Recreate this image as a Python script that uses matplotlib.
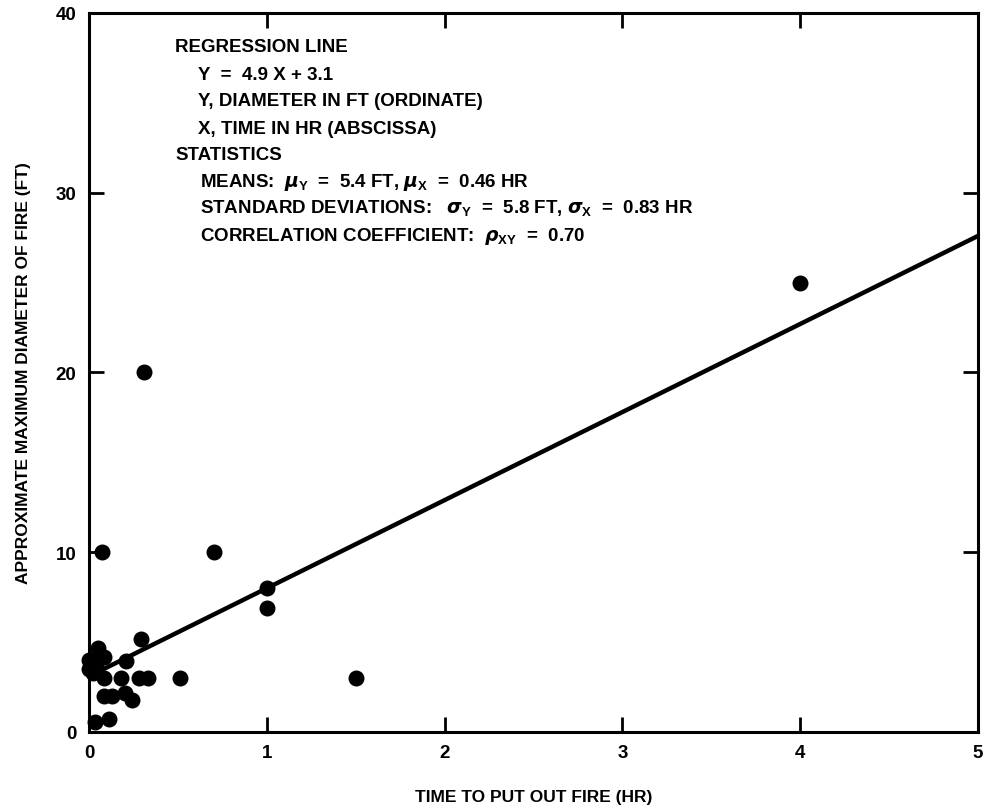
import matplotlib
matplotlib.use("Agg")
import matplotlib.pyplot as plt
import numpy as np
from matplotlib import font_manager

names = {f.name for f in font_manager.fontManager.ttflist}
fam = ['Liberation Sans Narrow', 'DejaVu Sans'] if 'Liberation Sans Narrow' in names else ['Liberation Sans', 'DejaVu Sans']
plt.rcParams['font.family'] = fam
plt.rcParams['mathtext.fontset'] = 'custom'
plt.rcParams['mathtext.rm'] = fam[0] + ':bold'
plt.rcParams['mathtext.it'] = 'DejaVu Sans:italic:bold'
plt.rcParams['mathtext.bf'] = fam[0] + ':bold'

# data (hours, feet)
time_hr = [0.31, 0.075, 0.70, 1.0, 1.0, 0.29, 1.5, 0.51, 0.33, 0.28, 0.18, 0.085,
           0.21, 0.05, 0.085, 0.02, 0.04, 0.01, 0.02, 0.085, 0.13, 0.20, 0.24,
           0.11, 0.035, 4.0, 0.0, 0.0]
diam_ft = [20, 10, 10, 8, 6.9, 5.2, 3.0, 3.0, 3.0, 3.0, 3.0, 3.0,
           3.95, 4.65, 4.15, 4.05, 3.7, 3.5, 3.3, 2.0, 2.0, 2.15, 1.8,
           0.7, 0.55, 25, 4.0, 3.5]
slope, intercept = 4.9, 3.1
xticks = [0, 1, 2, 3, 4, 5]
yticks = [0, 10, 20, 30, 40]

fig = plt.figure(figsize=(9.85, 8.12), dpi=100)
ax = fig.add_axes([0.0904, 0.0973, 0.9026, 0.8855])

ax.scatter(time_hr, diam_ft, s=110, color='black', zorder=3, clip_on=False)
xl = np.array([0, 5])
ax.plot(xl, slope * xl + intercept, color='black', lw=3.2, zorder=2)

ax.set_xlim(0, 5)
ax.set_ylim(0, 40)
ax.set_xticks(xticks)
ax.set_yticks(yticks)
ax.set_xticklabels([str(t) for t in xticks], fontweight='bold', fontsize=13.5)
ax.set_yticklabels([str(t) for t in yticks], fontweight='bold', fontsize=13.5)
ax.tick_params(direction='in', length=11, width=2, top=True, right=True, pad=9)
for s in ax.spines.values():
    s.set_linewidth(2.2)

ax.set_xlabel('TIME TO PUT OUT FIRE (HR)', fontweight='bold', fontsize=12.5, labelpad=20)
ax.set_ylabel('APPROXIMATE MAXIMUM DIAMETER OF FIRE (FT)', fontweight='bold', fontsize=12.5, labelpad=18)

fs = 13.5
tx = dict(transform=ax.transAxes, fontsize=fs, fontweight='bold', va='center', ha='left')
ax.text(0.097, 0.954, 'REGRESSION LINE', **tx)
ax.text(0.123, 0.914, 'Y  =  4.9 X + 3.1', **tx)
ax.text(0.123, 0.878, 'Y, DIAMETER IN FT (ORDINATE)', **tx)
ax.text(0.123, 0.840, 'X, TIME IN HR (ABSCISSA)', **tx)
ax.text(0.097, 0.803, 'STATISTICS', **tx)
ax.text(0.125, 0.765, r'MEANS:  $\mu_{\mathrm{Y}}$  =  5.4 FT, $\mu_{\mathrm{X}}$  =  0.46 HR', **tx)
ax.text(0.125, 0.729, r'STANDARD DEVIATIONS:   $\sigma_{\mathrm{Y}}$  =  5.8 FT, $\sigma_{\mathrm{X}}$  =  0.83 HR', **tx)
ax.text(0.125, 0.691, r'CORRELATION COEFFICIENT:  $\rho_{\mathrm{XY}}$  =  0.70', **tx)

fig.savefig('out.png', dpi=100)
